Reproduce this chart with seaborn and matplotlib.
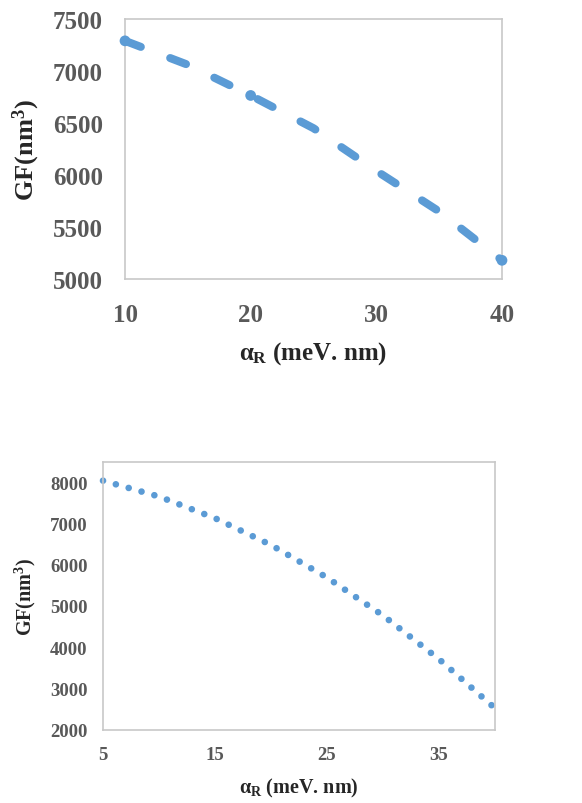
import pandas as pd
import seaborn as sns
import matplotlib.pyplot as plt

# top panel: GF vs alpha_R (dashed)
alpha_top = [10, 15, 20, 25, 30, 35, 40]
gf_top = [7290, 7060, 6765, 6450, 6040, 5650, 5180]
marked_top = [10, 20, 40]

# bottom panel: GF vs alpha_R (dotted)
alpha_bot = [5, 10, 15, 20, 25, 30, 35, 40]
gf_bot = [8040, 7655, 7130, 6480, 5690, 4770, 3710, 2520]

top_xticks = [10, 20, 30, 40]
top_yticks = [5000, 5500, 6000, 6500, 7000, 7500]
bot_xticks = [5, 15, 25, 35]
bot_yticks = [2000, 3000, 4000, 5000, 6000, 7000, 8000]

sns.set_style('white')
plt.rcParams['font.family'] = ['Liberation Serif', 'DejaVu Serif']
plt.rcParams['font.weight'] = 'bold'
plt.rcParams['mathtext.fontset'] = 'custom'
plt.rcParams['mathtext.rm'] = 'Liberation Serif:bold'
plt.rcParams['mathtext.it'] = 'Liberation Serif:bold'
plt.rcParams['mathtext.bf'] = 'Liberation Serif:bold'

blue = '#5B9BD5'
grey = '#595959'
spine = '#C8C8C8'

df_top = pd.DataFrame({'a': alpha_top, 'gf': gf_top})
df_bot = pd.DataFrame({'a': alpha_bot, 'gf': gf_bot})
df_mark = df_top[df_top['a'].isin(marked_top)]

fig = plt.figure(figsize=(5.82, 8.04), dpi=100)
ax1 = fig.add_axes([0.2148, 0.6517, 0.6477, 0.3234])
ax2 = fig.add_axes([0.1770, 0.0912, 0.6735, 0.3333])

sns.lineplot(data=df_top, x='a', y='gf', ax=ax1, color=blue, linewidth=5.8,
             linestyle=(0, (2.1, 3.9)), dash_capstyle='round')
sns.scatterplot(data=df_mark, x='a', y='gf', ax=ax1, color=blue, s=60,
                edgecolor='none', zorder=3, clip_on=False)

sns.lineplot(data=df_bot, x='a', y='gf', ax=ax2, color=blue, linewidth=4.8,
             linestyle=(0, (0.001, 2.0)), dash_capstyle='round')

ax1.set_xlim(10, 40)
ax1.set_ylim(5000, 7500)
ax1.set_xticks(top_xticks)
ax1.set_yticks(top_yticks)
ax2.set_xlim(5, 40)
ax2.set_ylim(2000, 8500)
ax2.set_xticks(bot_xticks)
ax2.set_yticks(bot_yticks)

for ax in (ax1, ax2):
    for s in ax.spines.values():
        s.set_visible(True)
        s.set_color(spine)
        s.set_linewidth(1.2)
    for c in ax.get_lines():
        c.set_clip_on(False)

ax1.tick_params(axis='both', length=0, labelsize=18, labelcolor=grey)
ax1.tick_params(axis='y', pad=16)
ax1.tick_params(axis='x', pad=17)
ax1.set_xlabel(r'$\alpha_{R}$ (meV. nm)', fontsize=18, fontweight='bold', labelpad=10)
ax1.set_ylabel(r'GF(nm$^{3}$)', fontsize=19, fontweight='bold', labelpad=8)

ax2.tick_params(axis='both', length=0, labelsize=13.5, labelcolor=grey)
ax2.tick_params(axis='y', pad=11)
ax2.tick_params(axis='x', pad=12)
ax2.set_xlabel(r'$\alpha_{R}$ (meV. nm)', fontsize=14.5, fontweight='bold', labelpad=9)
ax2.set_ylabel(r'GF(nm$^{3}$)', fontsize=14.5, fontweight='bold', labelpad=9)

fig.savefig('out.png', dpi=100)
